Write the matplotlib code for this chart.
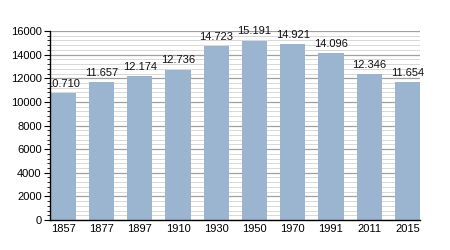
import numpy as np
import matplotlib.pyplot as plt
from matplotlib.ticker import MultipleLocator
from matplotlib.patches import Rectangle

anos = ['1857', '1877', '1897', '1910', '1930', '1950', '1970', '1991', '2011', '2015']
populacao = [10710, 11657, 12174, 12736, 14723, 15191, 14921, 14096, 12346, 11654]
rotulos = ['10.710', '11.657', '12.174', '12.736', '14.723', '15.191', '14.921', '14.096', '12.346', '11.654']

plt.rcParams['font.family'] = ['Liberation Sans', 'DejaVu Sans']

fig = plt.figure(figsize=(4.5, 2.5), dpi=100)
ax_left = 50/450
ax = fig.add_axes([ax_left, 30/250, 370/450, 189/250])

x = np.arange(len(anos))
ax.bar(x, populacao, width=0.66, color='#9bb4cf', zorder=2)

# recorte só à esquerda do eixo (o primeiro rótulo fica cortado, como no original)
recorte = Rectangle((ax_left, 0), 1 - ax_left, 1, transform=fig.transFigure,
                    visible=False)
fig.add_artist(recorte)
for xi, v, r in zip(x, populacao, rotulos):
    t = ax.annotate(r, (xi, v), xytext=(0, 3), textcoords='offset points',
                    ha='center', va='bottom', fontsize=8, color='#111111',
                    annotation_clip=False)
    t.set_clip_path(recorte)

ax.set_xlim(-0.35, 9.33)
ax.set_ylim(0, 16000)
ax.set_xticks(x)
ax.set_xticklabels(anos)
ax.yaxis.set_major_locator(MultipleLocator(2000))
ax.yaxis.set_minor_locator(MultipleLocator(400))

ax.grid(True, which='major', axis='y', color='#a0a0a0', linewidth=0.9, zorder=0)
ax.grid(True, which='minor', axis='y', color='#d8d8d8', linewidth=0.7, zorder=0)
ax.set_axisbelow(True)

for s in ['top', 'right']:
    ax.spines[s].set_visible(False)
ax.spines['left'].set_linewidth(1)
ax.spines['bottom'].set_linewidth(1)
ax.spines['left'].set_zorder(5)

ax.tick_params(axis='x', length=0, labelsize=8, pad=3)
ax.tick_params(axis='y', which='major', length=4, width=0.8, labelsize=8, pad=2)
ax.tick_params(axis='y', which='minor', length=2, width=0.6)

fig.savefig('out.png', dpi=100)
